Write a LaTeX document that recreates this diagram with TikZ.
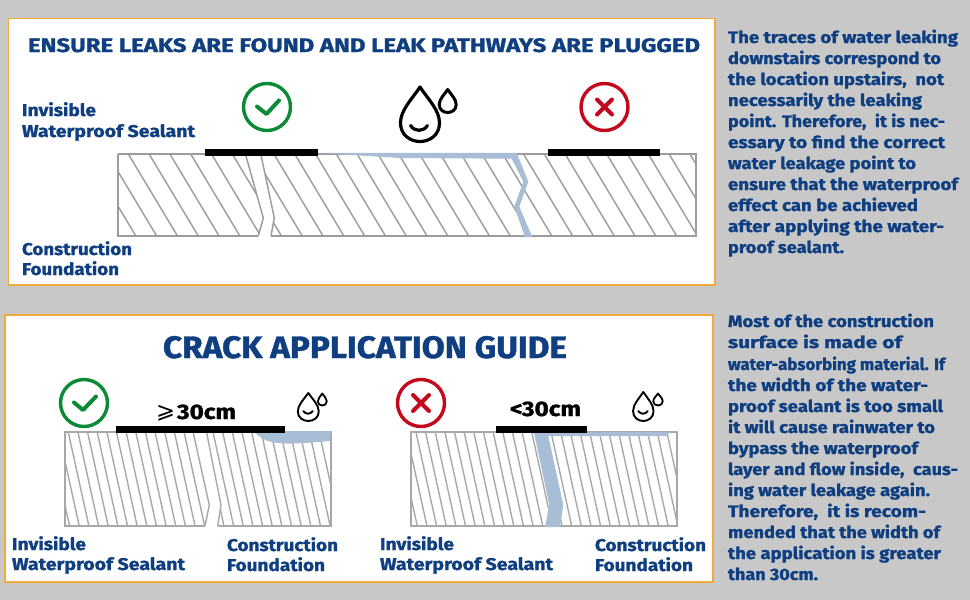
\documentclass[tikz,border=0pt]{standalone}
\usepackage{fontspec}
\usepackage{graphicx}
\setmainfont[BoldFeatures={FakeBold=1.2}]{Fira Sans}
\definecolor{bgc}{HTML}{C8C8C8}
\definecolor{org}{HTML}{F0A93A}
\definecolor{nav}{HTML}{0F3F80}
\definecolor{hat}{HTML}{9C9C9C}
\definecolor{hatl}{HTML}{A8A8A8}
\definecolor{wat}{HTML}{A8BDD6}
\definecolor{okg}{HTML}{0B8A36}
\definecolor{bad}{HTML}{C4081C}
\tikzset{
  panel/.style={draw=org,line width=1.6pt,fill=white},
  txt/.style={anchor=base west,inner sep=0pt,outer sep=0pt,text=nav},
  hatchline/.style={draw=hat,line width=1.45pt},
  framebox/.style={draw=hat,line width=2pt},
  hatchlow/.style={draw=hatl,line width=1.4pt},
  framelow/.style={draw=hatl,line width=2.2pt},
  sealbar/.style={fill=black,draw=none},
  water/.style={fill=wat,draw=none},
  iconring/.style={line width=3.4pt},
  iconmark/.style={line width=4pt,line cap=round,line join=round},
  dropline/.style={draw=black,line join=round,line cap=round}
}
\newcommand{\fw}[3]{\resizebox{#1pt}{\height}{\fontsize{#2}{#2}\selectfont\bfseries #3}}
\newcommand{\dropicon}[5]{% x tip, y tip, width, height, lw
  \begin{scope}[shift={(#1,#2)},x=#3pt,y=-#4pt]
    \draw[dropline,line width=#5pt] (0,0) .. controls (-.2,.22) and (-.5,.42) .. (-.5,.66)
      .. controls (-.5,.88) and (-.25,1) .. (0,1) .. controls (.25,1) and (.5,.88) .. (.5,.66)
      .. controls (.5,.42) and (.2,.22) .. (0,0) -- cycle;
  \end{scope}}
\newcommand{\dropsmile}[4]{% cx, y, width, lw
  \draw[dropline,line width=#4pt] (#1-#3/2,#2) .. controls (#1-#3/4,#2+#3*.38) and (#1+#3/4,#2+#3*.38) .. (#1+#3/2,#2);}
\begin{document}
\begin{tikzpicture}[x=1pt,y=-1pt]
\useasboundingbox (0,0) rectangle (970,600);
\fill[bgc] (0,0) rectangle (970,600);
\draw[panel] (8.5,18.5) rectangle (715,285);
\draw[panel] (5,315) rectangle (713,582);

% ---- top section
\node[txt] (t1) at (28,52) {\fw{672}{19.5}{ENSURE LEAKS ARE FOUND AND LEAK PATHWAYS ARE PLUGGED}};
\begin{scope}
  \clip (118,154) rectangle (696,236);
  \foreach \i in {-3,...,30} \draw[hatchline] (128.3+20.8*\i,154) -- ++(49.2,82);
\end{scope}
\fill[white] (245.7,153) -- (263.3,218) -- (258.3,238) -- (271,238) -- (274.3,218) -- (261,153) -- cycle;
\draw[hatchline] (245.7,155) -- (263.3,218) -- (258.3,236);
\draw[hatchline] (261,155) -- (274.3,218) -- (271,236);
\draw[framebox] (118,154) -- (696,154) -- (696,236) -- (271,236);
\draw[framebox] (258.3,236) -- (118,236) -- (118,154);
\fill[water] (318,152.8) -- (516.7,152.8) -- (528.3,181.7) -- (519.3,206.7) -- (532.3,237) -- (525,237) -- (514.3,206.7) -- (523.3,181.7) -- (511.7,158.7) -- (400,158) -- cycle;
\fill[sealbar] (205,149) rectangle (318,156);
\fill[sealbar] (547.5,149) rectangle (660,156);
\draw[okg,iconring] (267,107) circle (23.5);
\draw[okg,iconmark] (257,106.5) -- (266.5,114) -- (279,100.5);
\draw[bad,iconring] (604.5,107) circle (23.5);
\draw[bad,iconmark] (597,99.5) -- (612,114.5) (612,99.5) -- (597,114.5);
\dropicon{420}{87}{39}{54.5}{3.2}
\dropsmile{419}{125.5}{17}{3.2}
\dropicon{447.7}{89.5}{17}{23}{3}
\node[txt] (a1) at (22,116) {\fw{74}{17}{Invisible}};
\node[txt] (a2) at (22,137) {\fw{173}{17}{Waterproof Sealant}};
\node[txt] (a3) at (22,255) {\fw{110}{17}{Construction}};
\node[txt] (a4) at (22,275) {\fw{97}{17}{Foundation}};

% ---- lower section
\node[txt] (t2) at (163,358) {\fw{404}{31}{CRACK APPLICATION GUIDE}};
% left
\begin{scope}
  \clip (65,432.3) rectangle (330.7,526);
  \foreach \i in {-6,...,30} \draw[hatchlow] (68.3+9.65*\i,432.3) -- ++(20.6,93.7);
\end{scope}
\fill[white] (193.3,431) -- (209.3,505) -- (205,528) -- (217.7,528) -- (221,505) -- (206.7,431) -- cycle;
\draw[hatchlow] (193.3,433) -- (209.3,505) -- (205,526);
\draw[hatchlow] (206.7,433) -- (221,505) -- (217.7,526);
\draw[framelow] (217.7,526) -- (330.7,526) -- (330.7,432.3) -- (65,432.3) -- (65,526) -- (205,526);
\fill[water] (253,431) -- (331,431) -- (330,441) .. controls (305,443) and (285,445) .. (272,442) .. controls (265,441) and (258,436) .. (253,431) -- cycle;
\fill[sealbar] (116,426) rectangle (285,432.8);
\draw[okg,iconring] (84,403) circle (23.5);
\draw[okg,iconmark] (74,402.5) -- (83,410) -- (96,396.5);
\node[txt] (w1) at (156,418) {\resizebox{19pt}{!}{\fontspec{DejaVu Sans}\color{black}⩾}};
\node[txt,text=black] (w2) at (177,419) {\fw{59}{21}{30cm}};
\dropicon{308.3}{393}{21}{28}{1.9}
\dropsmile{308}{411}{9.5}{1.9}
\dropicon{322.3}{393.5}{9}{12}{1.8}
\node[txt] (b1) at (12,550) {\fw{74}{17}{Invisible}};
\node[txt] (b2) at (12,570) {\fw{173}{17}{Waterproof Sealant}};
\node[txt] (b3) at (227,551) {\fw{111}{17}{Construction}};
\node[txt] (b4) at (227,571) {\fw{98}{17}{Foundation}};
% right
\begin{scope}
  \clip (410.7,432.3) rectangle (676.7,526);
  \foreach \i in {-6,...,30} \draw[hatchlow] (416+9.65*\i,432.3) -- ++(20.6,93.7);
\end{scope}
\draw[framelow] (410.7,432.3) rectangle (676.7,526);
\fill[white] (534,433) -- (549.3,505) -- (545,526) -- (560,526) -- (563.3,505) -- (548.3,433) -- cycle;
\fill[water] (534,432.5) -- (549.3,505) -- (545,527) -- (560,527) -- (563.3,505) -- (548.3,436) -- (666.7,436) -- (670,432) -- cycle;
\fill[sealbar] (496,426) rectangle (586.7,432.8);
\draw[bad,iconring] (421,403) circle (23.5);
\draw[bad,iconmark] (413,395) -- (429,411) (429,395) -- (413,411);
\node[txt,text=black] (n1) at (510,416) {\fw{71}{21}{<30cm}};
\dropicon{643.3}{392}{20.5}{29}{1.9}
\dropsmile{643}{411}{9.5}{1.9}
\dropicon{658}{393.5}{9.5}{12}{1.8}
\node[txt] (c1) at (380,550) {\fw{74}{17}{Invisible}};
\node[txt] (c2) at (380,570) {\fw{173}{17}{Waterproof Sealant}};
\node[txt] (c3) at (595,551) {\fw{111}{17}{Construction}};
\node[txt] (c4) at (595,571) {\fw{98}{17}{Foundation}};

% ---- side text
\foreach \nm/\yy/\ww/\tx in {
 r1/43/230/{The traces of water leaking},
 r2/64/213/{downstairs correspond to},
 r3/85/216/{the location upstairs,\ \ not},
 r4/106/194/{necessarily the leaking},
 r5/127/217/{point. Therefore,\ \ it is nec-},
 r6/148/217/{essary to find the correct},
 r7/169/188/{water leakage point to},
 r8/190/230/{ensure that the waterproof},
 r9/211/190/{effect can be achieved},
 r10/232/216/{after applying the water-},
 r11/253/116/{proof sealant.},
 s1/327/206/{Most of the construction},
 s2/348/174/{surface is made of},
 s3/370/217/{water-absorbing material. If},
 s4/391/200/{the width of the water-},
 s5/412/215/{proof sealant is too small},
 s6/433/207/{it will cause rainwater to},
 s7/454/190/{bypass the waterproof},
 s8/475/230/{layer and flow inside,\ \ caus-},
 s9/496/202/{ing water leakage again.},
 s10/517/198/{Therefore,\ \ it is recom-},
 s11/538/212/{mended that the width of},
 s12/559/213/{the application is greater},
 s13/580/90/{than 30cm.}}
 {\node[txt] (\nm) at (728,\yy) {\fw{\ww}{16.5}{\tx}};}
\end{tikzpicture}
\end{document}
